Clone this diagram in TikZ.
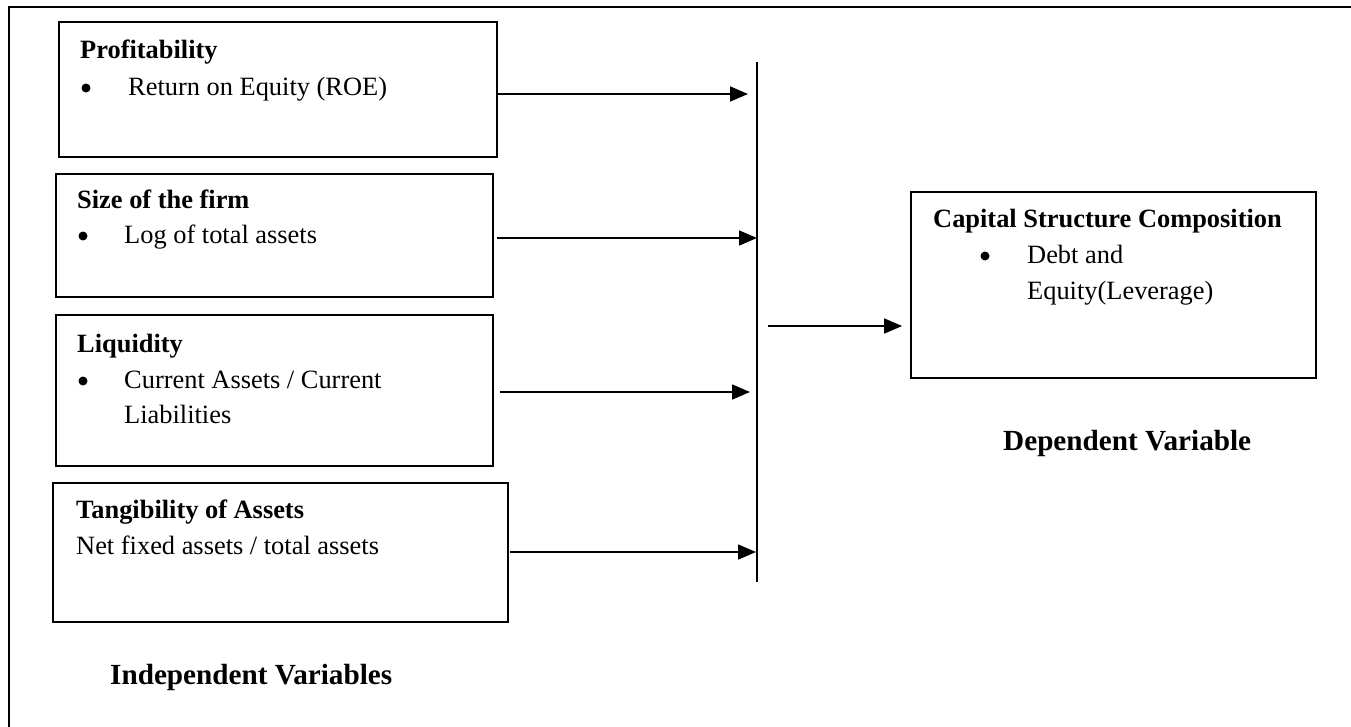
\documentclass[tikz,border=0pt]{standalone}
\usepackage{fontspec}
\setmainfont{Liberation Serif}
\usetikzlibrary{arrows.meta}
\tikzset{
  frameline/.style={line width=2pt},
  box/.style={draw, line width=1.8pt, rectangle, inner sep=0pt},
  txt/.style={inner sep=0pt, anchor=base west},
  ttl/.style={inner sep=0pt, anchor=base west, font=\fontsize{26.4pt}{35pt}\selectfont\bfseries},
  cpt/.style={inner sep=0pt, anchor=base west, font=\fontsize{29.2pt}{35pt}\selectfont\bfseries},
  bul/.style={circle, fill=black, inner sep=0pt, minimum size=9pt},
  arr/.style={line width=1.6pt, -{Triangle[length=18pt,width=15pt]}},
  barline/.style={line width=1.6pt}
}
\begin{document}
\begin{tikzpicture}[x=1pt, y=-1pt, font=\fontsize{26.4pt}{35pt}\selectfont]
\useasboundingbox (0,0) rectangle (1351,726);
\clip (0,0) rectangle (1351,726);
\fill[white] (0,0) rectangle (1351,726);
% outer frame (extends beyond right and bottom edges)
\draw[frameline] (9,7) rectangle (1380,760);

% boxes
\node[box, minimum width=438pt, minimum height=135pt] (b1) at (278,89.5) {};
\node[box, minimum width=437pt, minimum height=123pt] (b2) at (274.5,235.5) {};
\node[box, minimum width=437pt, minimum height=151pt] (b3) at (274.5,390.5) {};
\node[box, minimum width=455pt, minimum height=139pt] (b4) at (280.5,552.5) {};
\node[box, minimum width=405pt, minimum height=186pt] (cap) at (1113.5,285) {};

% box texts
\node[ttl] (t1) at (80,58) {Profitability};
\node[bul] (u1) at (86,88) {};
\node[txt] (l1) at (128,95) {Return on Equity (ROE)};

\node[ttl] (t2) at (77,208) {Size of the firm};
\node[bul] (u2) at (83,236) {};
\node[txt] (l2) at (124,243) {Log of total assets};

\node[ttl] (t3) at (77,352) {Liquidity};
\node[bul] (u3) at (83,381) {};
\node[txt] (l3a) at (124,388) {Current Assets / Current};
\node[txt] (l3b) at (124,423) {Liabilities};

\node[ttl] (t4) at (76,518) {Tangibility of Assets};
\node[txt] (l4) at (76,554) {Net fixed assets / total assets};

\node[ttl] (tc) at (933,227) {Capital Structure Composition};
\node[bul] (uc) at (985,256) {};
\node[txt] (lc1) at (1027,263) {Debt and};
\node[txt] (lc2) at (1027,299) {Equity(Leverage)};

% captions
\node[cpt] (indep) at (110,684) {Independent Variables};
\node[cpt] (dep) at (1003,450) {Dependent Variable};

% vertical collector line
\coordinate (vtop) at (757,62);
\coordinate (vbot) at (757,582);
\draw[barline] (vtop) -- (vbot);

% arrow end points
\coordinate (s1) at (498,94);   \coordinate (e1) at (748,94);
\coordinate (s2) at (497,238);  \coordinate (e2) at (757,238);
\coordinate (s3) at (500,392);  \coordinate (e3) at (750,392);
\coordinate (s4) at (510,552);  \coordinate (e4) at (756,552);
\coordinate (m0) at (768,326);

\draw[arr] (s1) -- (e1);
\draw[arr] (s2) -- (e2);
\draw[arr] (s3) -- (e3);
\draw[arr] (s4) -- (e4);
\draw[arr, shorten >=8pt] (m0) -- (cap.west |- m0);
\end{tikzpicture}
\end{document}
